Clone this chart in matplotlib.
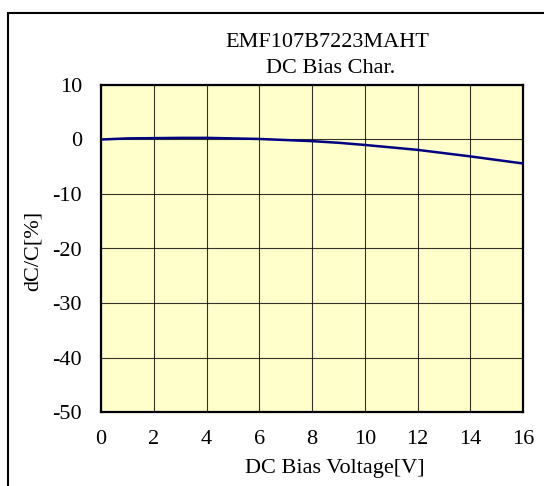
import matplotlib
matplotlib.use("Agg")
import matplotlib.pyplot as plt
from matplotlib.patches import Rectangle

voltage = [0, 1, 2, 3, 4, 5, 6, 7, 8, 9, 10, 11, 12, 13, 14, 15, 16]
dcc = [0.0, 0.2, 0.25, 0.3, 0.3, 0.2, 0.1, -0.1, -0.3, -0.6, -1.0, -1.45, -1.9, -2.5, -3.1, -3.75, -4.4]
xticks = [0, 2, 4, 6, 8, 10, 12, 14, 16]
yticks = [-50, -40, -30, -20, -10, 0, 10]
title_lines = ['EMF107B7223MAHT', 'DC Bias Char.']

plt.rcParams['font.family'] = ['Liberation Serif', 'DejaVu Serif']
plt.rcParams['axes.unicode_minus'] = False

W, H = 544, 486
FS = 16
fig = plt.figure(figsize=(W/100, H/100), dpi=100)
fig.patch.set_facecolor('white')
fig.add_artist(Rectangle((8/W, -0.01), (W+5-8)/W, 1 - 13/H + 0.01, transform=fig.transFigure,
                         fill=False, edgecolor='black', linewidth=1.5))

l, r, t, b = 101, 523, 85, 412
ax = fig.add_axes([l/W, 1 - b/H, (r-l)/W, (b-t)/H])
ax.set_facecolor('#FFFFCC')
ax.plot(voltage, dcc, color='#000080', linewidth=1.8, zorder=3)
ax.set_xlim(0, 16)
ax.set_ylim(-50, 10)
ax.set_xticks(xticks)
ax.set_yticks(yticks)
ax.grid(True, color='black', linewidth=0.8, alpha=0.8)
ax.tick_params(axis='both', length=0, labelsize=FS)
ax.tick_params(axis='x', pad=13)
ax.tick_params(axis='y', pad=13.7)
for s in ax.spines.values():
    s.set_linewidth(1.6)
    s.set_color('black')

def px(x, y):
    return x / W, 1 - y / H

fig.text(*px(334.5, 473), 'DC Bias Voltage[V]', fontsize=FS, ha='center', va='baseline')
fig.text(*px(33.5, 251), 'dC/C[%]', fontsize=FS, ha='center', va='center', rotation=90)
fig.text(*px(327, 47), title_lines[0], fontsize=FS, ha='center', va='baseline')
fig.text(*px(331, 73), title_lines[1], fontsize=FS, ha='center', va='baseline')

fig.savefig('out.png', dpi=100)
